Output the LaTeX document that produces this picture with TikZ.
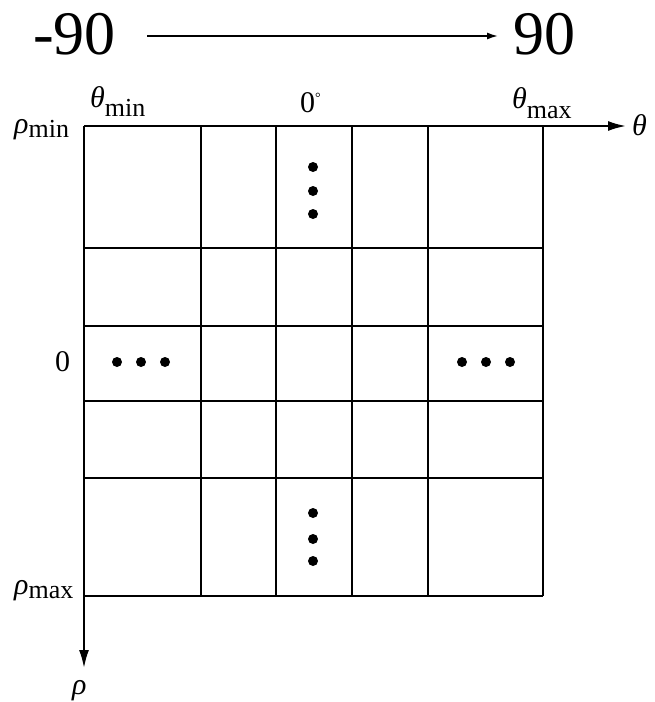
\documentclass[tikz,border=0pt]{standalone}
\usepackage{fontspec}
\setmainfont{Liberation Serif}
\newfontfamily\tnr{Liberation Serif}
\usetikzlibrary{arrows.meta}
\tikzset{
  gridline/.style={line width=1.8pt, black},
  axisline/.style={line width=2pt, black, -{Latex[length=18pt,width=10pt]}},
  toparrow/.style={line width=1.6pt, black, -{Latex[length=11pt,width=7pt]}},
  lab/.style={inner sep=0pt, anchor=base west, font=\tnr\fontsize{30}{30}\selectfont},
  big/.style={inner sep=0pt, anchor=base west, font=\tnr\fontsize{62}{62}\selectfont},
  dotmark/.style={fill=black, draw=none},
}
\newcommand{\subtxt}[2]{\raisebox{-#1pt}{\upshape\fontsize{26}{26}\selectfont #2}}
\begin{document}
\begin{tikzpicture}[x=1pt,y=-1pt]
\useasboundingbox (0,0) rectangle (654,702);
% top arrow
\node[big] (m90) at (33,54) {-90};
\node[big] (p90) at (513,54) {90};
\coordinate (ta) at (147,36);
\coordinate (tb) at (498,36);
\draw[toparrow] (ta) -- (tb);
% grid
\foreach \x in {201,276,352,428,543} \draw[gridline] (\x,126) -- (\x,596);
\foreach \y in {248,326,401,478,596} \draw[gridline] (84,\y) -- (543,\y);
% axes
\coordinate (o) at (84,126);
\coordinate (xe) at (626,126);
\coordinate (ye) at (84,668);
\draw[axisline] (o) -- (xe);
\draw[axisline] (o) -- (ye);
% labels
\node[lab] (tmin) at (90,107) {\itshape θ\subtxt{9}{min}};
\node[lab] (zdeg) at (300,112) {0\raisebox{10pt}{\fontsize{14}{14}\selectfont °}};
\node[lab] (tmax) at (512,108) {\itshape θ\subtxt{10}{max}};
\node[lab] (rmin) at (14,133) {\itshape ρ\subtxt{4}{min}};
\node[lab] (zero) at (55,371) {0};
\node[lab] (rmax) at (14,594) {\itshape ρ\subtxt{4}{max}};
\node[lab] (theta) at (632,135) {\itshape θ};
\node[lab] (rho) at (72,694) {\itshape ρ};
% dots
\foreach \y in {167,191,214,513,539,561} \fill[dotmark] (313,\y) circle (5);
\foreach \x in {117,141,165,462,486,510} \fill[dotmark] (\x,362) circle (5);
\end{tikzpicture}
\end{document}
